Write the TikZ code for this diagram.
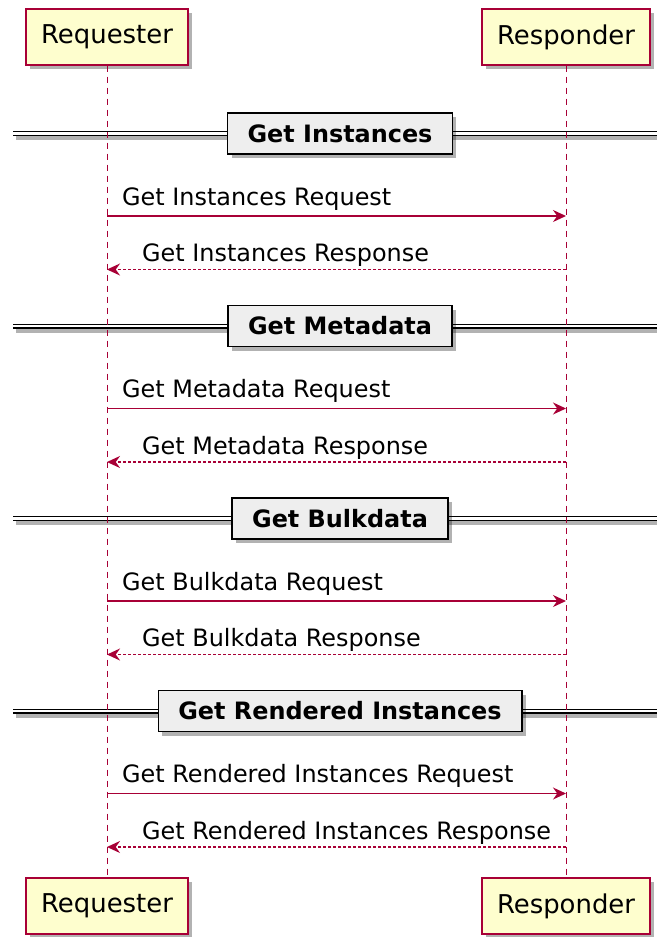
\documentclass[tikz,border=0pt]{standalone}
\usepackage{fontspec}
\setmainfont{DejaVu Sans}
\usetikzlibrary{arrows.meta, shadows, positioning}
\definecolor{umlred}{HTML}{A80036}
\definecolor{umlyellow}{HTML}{FEFECE}
\definecolor{divgray}{HTML}{EEEEEE}

\begin{document}
\begin{tikzpicture}[
    x=1bp, y=-1bp,
    actor/.style={rectangle, draw=umlred, line width=1.4bp, fill=umlyellow, minimum height=56bp, inner xsep=15bp, font=\fontsize{26}{30}\selectfont, drop shadow={shadow xshift=4bp, shadow yshift=-4bp, opacity=.3, fill=black}},
    divider/.style={rectangle, draw=black, line width=1.6bp, fill=divgray, minimum height=41bp, inner xsep=20bp, font=\fontsize{24}{28}\selectfont\bfseries, drop shadow={shadow xshift=4bp, shadow yshift=-4bp, opacity=.3, fill=black}},
    lifeline/.style={umlred, line width=1bp, dash pattern=on 6bp off 5bp},
    sepline/.style={line width=1.2bp, double=white, double distance=2.6bp},
    sepshadow/.style={black!30, line width=5bp},
    request/.style={umlred, line width=1.3bp, -{Stealth[length=13bp, width=12bp]}},
    response/.style={request, dash pattern=on 3bp off 2bp},
    msg/.style={anchor=base west, font=\fontsize{24}{28}\selectfont, inner sep=0pt}
]
    \useasboundingbox (0,0) rectangle (657,937);

    % Participants
    \node[actor] (reqTop) at (107,37) {Requester};
    \node[actor] (resTop) at (566,37) {Responder};
    \node[actor] (reqBot) at (107,906) {Requester};
    \node[actor] (resBot) at (566,906) {Responder};

    % Separator lines
    \foreach \i/\yd in {1/133.5, 2/326, 3/518.5, 4/711} {
        \coordinate (sepL\i) at (13,\yd);
        \coordinate (sepR\i) at (657,\yd);
        \draw[sepshadow] ([shift={(3,4)}]sepL\i) -- ([shift={(3,4)}]sepR\i);
        \draw[sepline] (sepL\i) -- (sepR\i);
    }

    % Lifelines
    \draw[lifeline] (reqTop) -- (reqBot);
    \draw[lifeline] (resTop) -- (resBot);

    % Sections and messages
    \foreach \i/\name/\yd in {1/Instances/133.5, 2/Metadata/326, 3/Bulkdata/518.5, 4/Rendered Instances/711} {
        \node[divider] (div\i) at (340,\yd) {Get \name};
        \coordinate (reqA\i) at (reqTop |- 0,\yd+82.5);
        \coordinate (resA\i) at (resTop |- 0,\yd+82.5);
        \coordinate (reqB\i) at (reqTop |- 0,\yd+136);
        \coordinate (resB\i) at (resTop |- 0,\yd+136);
        \draw[request] (reqA\i) -- (resA\i);
        \draw[response] (resB\i) -- (reqB\i);
        \node[msg] (lblA\i) at ([shift={(15,-11)}]reqA\i) {Get \name{} Request};
        \node[msg] (lblB\i) at ([shift={(35,-8)}]reqB\i) {Get \name{} Response};
    }
\end{tikzpicture}
\end{document}
